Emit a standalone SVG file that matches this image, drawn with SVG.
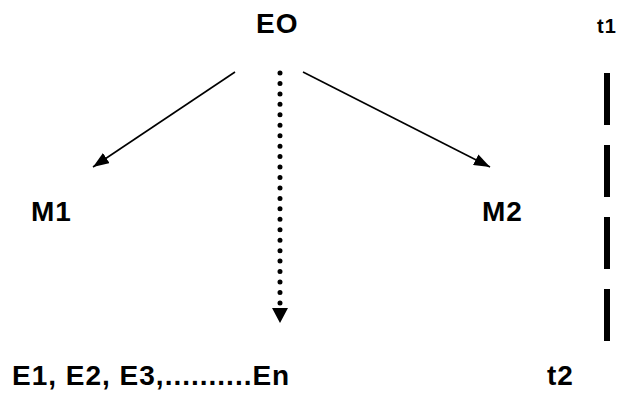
<svg xmlns="http://www.w3.org/2000/svg" width="624" height="399" viewBox="0 0 624 399">
<style>
text{font-family:"Liberation Sans",Arial,sans-serif;font-weight:bold;fill:#000;font-size:28px;letter-spacing:1px}
.ln{stroke:#000;stroke-width:1.6;fill:none}
</style>
<defs>
<marker id="ah" viewBox="0 0 16 12" refX="16" refY="6" markerWidth="16" markerHeight="12" markerUnits="userSpaceOnUse" orient="auto">
<path d="M0,0 L16,6 L0,12 Z" fill="#000"/>
</marker>
</defs>
<rect width="624" height="399" fill="#fff"/>
<g id="connectors">
<line class="ln" x1="235" y1="72" x2="93" y2="167" marker-end="url(#ah)"/>
<line class="ln" x1="303" y1="72" x2="490" y2="167" marker-end="url(#ah)"/>
<line x1="280" y1="73" x2="280" y2="304" stroke="#000" stroke-width="5" stroke-linecap="round" stroke-dasharray="0 10.45"/>
<path d="M272,308 L288,308 L280,323 Z" fill="#000"/>
</g>
<g id="timeline">
<line x1="607" y1="73" x2="607" y2="341" stroke="#000" stroke-width="6" stroke-dasharray="52 20"/>
</g>
<g id="E0"><text x="256" y="33">EO</text></g>
<g id="M1"><text x="31" y="221">M1</text></g>
<g id="M2"><text x="482" y="221">M2</text></g>
<g id="t1"><text x="597" y="33" style="font-size:20px">t1</text></g>
<g id="t2"><text x="547" y="385">t2</text></g>
<g id="En"><text x="12" y="385">E1, E2, E3,..........En</text></g>
</svg>
